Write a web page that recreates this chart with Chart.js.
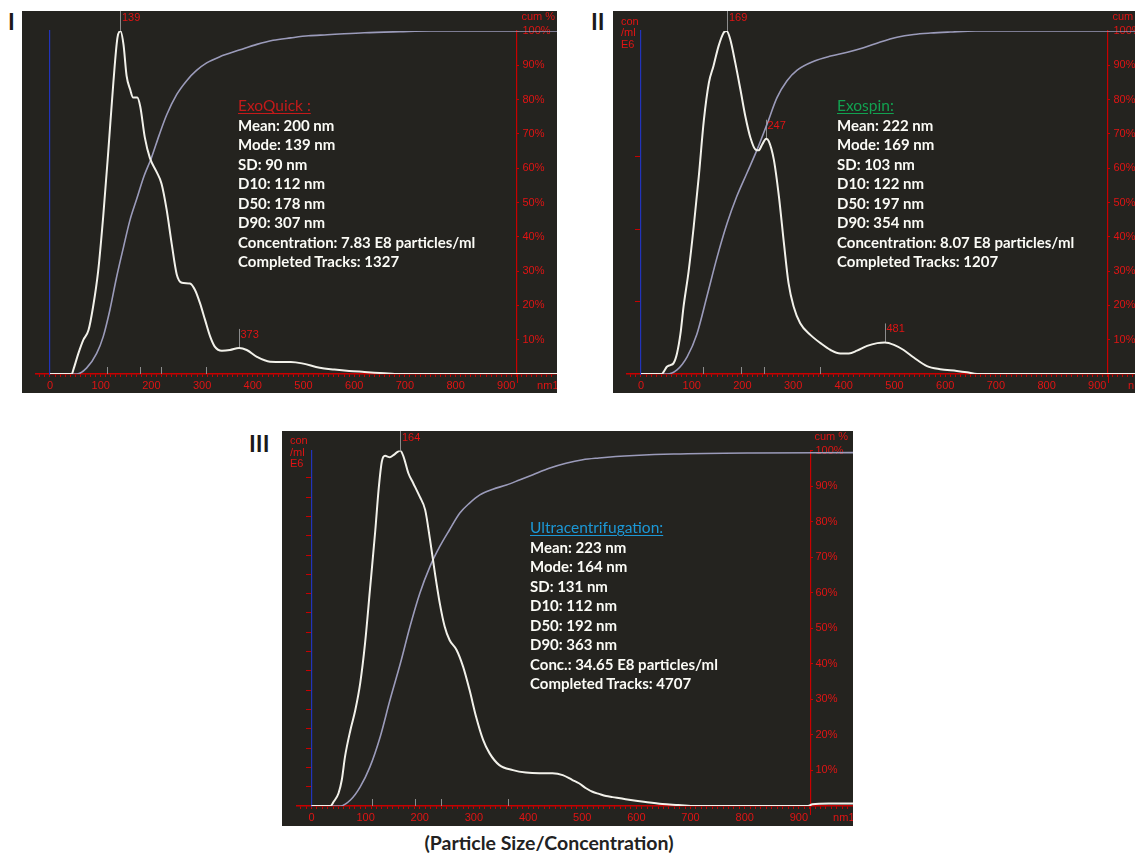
<!DOCTYPE html>
<html>
<head>
<meta charset="utf-8">
<script src="https://cdn.jsdelivr.net/npm/chart.js@4.4.1/dist/chart.umd.min.js"></script>
<style>
html,body{margin:0;padding:0;background:#fff;}
#page{position:relative;width:1135px;height:854px;overflow:hidden;background:#fff;font-family:Lato,"Open Sans",sans-serif;}
.box{position:absolute;background:#24231f;overflow:hidden;}
.box canvas{position:absolute;left:0;top:0;}
.plabel{position:absolute;font:700 23px/1 Lato,sans-serif;color:#1a1a1a;white-space:nowrap;}
.stats{position:absolute;color:#fbfbf6;font:700 15px Lato,sans-serif;line-height:19.5px;white-space:nowrap;z-index:2;}
.stats .t{font-weight:400;font-size:15.5px;text-decoration:underline;text-underline-offset:2px;}
.caption{position:absolute;left:549px;top:833px;transform:translateX(-50%);font:700 19.5px/1 Lato,sans-serif;color:#222;white-space:nowrap;}
</style>
</head>
<body>
<div id="page">
  <div class="plabel" style="left:8px;top:10px;">I</div>
  <div class="plabel" style="left:591px;top:10px;">II</div>
  <div class="plabel" style="left:249px;top:432px;">III</div>

  <div class="box" style="left:22px;top:11px;width:535px;height:382px;"><canvas id="c1"></canvas></div>
  <div class="box" style="left:613px;top:11px;width:522px;height:382px;"><canvas id="c2"></canvas></div>
  <div class="box" style="left:282px;top:431px;width:571px;height:395px;"><canvas id="c3"></canvas></div>

  <div class="stats" id="s1" style="left:238px;top:96px;"></div>
  <div class="stats" id="s2" style="left:837px;top:96px;"></div>
  <div class="stats" id="s3" style="left:530px;top:518px;"></div>

  <div class="caption">(Particle Size/Concentration)</div>
</div>

<script>
// ---------------- DATA ----------------
// Particle size (nm) and concentration (relative height, % of mode peak)
const sizeI = [0, 43, 46, 56, 66, 76, 85, 95, 105, 115, 125, 133, 139, 145, 151, 158, 164, 172, 178, 187, 197, 210, 220, 230, 240, 250, 260, 276, 286, 296, 306, 316, 325, 339, 355, 373, 388, 408, 434, 475, 497, 532, 561, 590, 620, 660, 680, 1000];
const concI = [0, 0, 1.2, 6, 10, 12.8, 19.6, 30, 46, 65, 85, 98, 100, 96, 87, 83, 80.6, 80.6, 78, 69, 63, 59, 55.5, 48, 38, 29, 26.6, 26.4, 24.5, 20.6, 15.7, 10.9, 8, 6.8, 7, 7.6, 7, 5, 3.6, 3.5, 3.1, 1.8, 1.3, 0.9, 0.6, 0.2, 0, 0];
const cumSizeI = [0, 53, 72, 92, 105, 118, 131, 145, 158, 171, 185, 200, 215, 230, 250, 270, 289, 309, 335, 375, 408, 440, 475, 510, 547, 580, 620, 690, 750, 1000];
const cumI = [0, 0, 1.7, 6, 10.9, 18.6, 28, 37, 45, 51, 57.5, 63, 69.5, 75.5, 81.5, 85.6, 88.5, 90.7, 92.5, 94.5, 96.1, 97.3, 98.0, 98.6, 98.9, 99.2, 99.5, 99.8, 100, 100];

const sizeII = [0, 41, 45, 51, 58, 64, 71, 78, 84, 94, 104, 114, 124, 134, 143, 153, 163, 169, 176, 186, 196, 206, 216, 226, 232, 239, 247, 252, 262, 272, 282, 291, 301, 314, 334, 354, 374, 393, 410, 426, 446, 466, 481, 499, 518, 538, 564, 590, 623, 643, 663, 1000];
const concII = [0, 0, 0.7, 2.1, 2.6, 3.1, 6, 11.9, 19.7, 30, 43, 57.6, 74, 85, 89.8, 95.6, 99.5, 100, 97.6, 90.7, 83, 75, 68.8, 65.4, 65.2, 66.9, 68.6, 67.9, 62.5, 51.8, 38, 26.5, 19.7, 14.8, 11.4, 9, 7, 6, 6, 6.8, 8.2, 9, 9.2, 8.5, 7, 4.8, 2.3, 1.4, 0.9, 0.5, 0, 0];
const cumSizeII = [0, 51, 71, 91, 110, 130, 150, 170, 189, 209, 229, 249, 268, 288, 308, 341, 374, 407, 439, 472, 505, 538, 571, 610, 660, 1000];
const cumII = [0, 0, 1.2, 5, 11.5, 22.6, 34, 44, 51.8, 58.6, 65.4, 73, 80.5, 85.5, 88.6, 91.2, 92.7, 93.8, 95.1, 96.8, 98.2, 99, 99.4, 99.7, 100, 100];

const sizeIII = [0, 35, 41, 50, 56, 62, 72, 81, 90, 99, 108, 118, 124, 130, 136, 145, 154, 164, 170, 179, 188, 200, 210, 219, 228, 237, 246, 255, 268, 280, 292, 304, 317, 329, 347, 372, 396, 421, 445, 464, 482, 494, 507, 519, 531, 544, 556, 580, 617, 648, 678, 709, 917, 925, 955, 1000];
const concIII = [0, 0, 1.2, 3.6, 7.3, 13.9, 21.4, 27, 34.5, 45.8, 60.8, 77.7, 89, 96.9, 98.5, 98.1, 99, 100, 98.3, 93.6, 90.8, 87, 83.3, 74.9, 65.5, 57, 50.5, 46.7, 43.9, 39.2, 32.6, 25.1, 18.6, 14.8, 11.5, 10.1, 9.4, 9.2, 9.2, 8.7, 7.3, 6.4, 5, 4, 3.4, 2.8, 2.5, 1.9, 1.1, 0.55, 0.3, 0, 0, 0.5, 0.7, 0.7];
const cumSizeIII = [0, 53, 72, 90, 108, 127, 145, 164, 182, 200, 219, 237, 255, 274, 292, 311, 335, 360, 384, 409, 439, 470, 501, 531, 562, 596, 669, 814, 1000];
const cumIII = [0, 0, 1.7, 5.4, 11, 19.5, 29.8, 40, 50.5, 59.8, 67.4, 73, 77.7, 82.4, 85.2, 87.5, 89.1, 90.3, 91.7, 93.2, 95, 96.4, 97.4, 97.9, 98.3, 98.6, 99, 99.3, 99.4];

// labelled peaks (nm) and D10 / D50 / mean-ish / D90 marker positions (nm)
const peaksI = [139, 373];
const peaksII = [169, 247, 481];
const peaksIII = [164];
const marksI = [112, 178, 219, 307];
const marksII = [122, 197, 243, 354];
const marksIII = [112, 192, 240, 363];

// left axis (con/ml E6) tick positions, relative height units
const leftTicksI = [];
const leftTicksII = [21, 42.1, 63.3];
const leftTicksIII = [5.43, 10.86, 16.29, 21.72, 27.15, 32.58, 38.01, 43.44, 48.87, 54.3, 59.73, 65.16, 70.59, 76.02, 81.45, 86.88, 92.31];

// tick labels
const xLabelValues = [0, 100, 200, 300, 400, 500, 600, 700, 800, 900];
const xEndLabel = 'nm1000';
const cumTickValues = [10, 20, 30, 40, 50, 60, 70, 80, 90, 100];
const cumAxisTitle = 'cum %';
const conLabel = ['con', '/ml', 'E6'];

// statistics text
const statsI = ['ExoQuick :', 'Mean: 200 nm', 'Mode: 139 nm', 'SD: 90 nm', 'D10: 112 nm', 'D50: 178 nm', 'D90: 307 nm', 'Concentration: 7.83 E8 particles/ml', 'Completed Tracks: 1327'];
const statsII = ['Exospin:', 'Mean: 222 nm', 'Mode: 169 nm', 'SD: 103 nm', 'D10: 122 nm', 'D50: 197 nm', 'D90: 354 nm', 'Concentration: 8.07 E8 particles/ml', 'Completed Tracks: 1207'];
const statsIII = ['Ultracentrifugation:', 'Mean: 223 nm', 'Mode: 164 nm', 'SD: 131 nm', 'D10: 112 nm', 'D50: 192 nm', 'D90: 363 nm', 'Conc.: 34.65 E8 particles/ml', 'Completed Tracks: 4707'];

// ---------------- STYLE ----------------
const X_MIN = -27.6, X_MAX = 1000, X_MINOR = 10, X_FIRST_TICK = -20;
const CUM_AXIS_AT = 921;
const EXTRA = 40;
const RED_TXT = '#e01414', RED_LINE = '#c80000', BLUE = '#2233bb', GRAY = '#8c8c8c';
const CONC_COLOR = '#f2f1ea', CUM_COLOR = '#9b9bba';
const TXT_FONT = '11px "Liberation Sans", Arial, sans-serif';

function fillStats(id, lines, color) {
  const el = document.getElementById(id);
  lines.forEach((t, i) => {
    const d = document.createElement('div');
    d.textContent = t;
    if (i === 0) { d.className = 't'; d.style.color = color; }
    el.appendChild(d);
  });
}
fillStats('s1', statsI, '#c41a1a');
fillStats('s2', statsII, '#12a150');
fillStats('s3', statsIII, '#1c98d6');

const decor = {
  id: 'decor',
  beforeDatasetsDraw(chart, args, o) {
    const ctx = chart.ctx, xs = chart.scales.x, ys = chart.scales.y, y2 = chart.scales.y2, ca = chart.chartArea;
    ctx.save();
    ctx.lineWidth = 1;
    ctx.strokeStyle = GRAY;
    o.marks.forEach(v => {
      const px = Math.round(xs.getPixelForValue(v)) + 0.5;
      ctx.beginPath(); ctx.moveTo(px, ca.bottom); ctx.lineTo(px, ca.bottom - 7); ctx.stroke();
    });
    o.peaks.forEach((pk, i) => {
      const idx = o.size.indexOf(pk);
      const py = ys.getPixelForValue(o.conc[idx]);
      const px = Math.round(xs.getPixelForValue(pk)) + 0.5;
      const top = i === 0 ? 0 : py - 19;
      ctx.beginPath(); ctx.moveTo(px, top); ctx.lineTo(px, py); ctx.stroke();
    });
    // cum axis extension below baseline
    const ax = Math.round(xs.getPixelForValue(CUM_AXIS_AT)) + 0.5;
    ctx.strokeStyle = RED_LINE;
    ctx.beginPath(); ctx.moveTo(ax, ca.bottom); ctx.lineTo(ax, ca.bottom + 9); ctx.stroke();
    // cum % tick labels
    ctx.fillStyle = RED_TXT; ctx.font = TXT_FONT; ctx.textAlign = 'left'; ctx.textBaseline = 'middle';
    cumTickValues.forEach(v => ctx.fillText(v + '%', ax + 5, y2.getPixelForValue(v)));
    ctx.fillText(cumAxisTitle, ax + 4, ca.top - 14);
    if (o.con) {
      ctx.fillText(conLabel[0], 8, ca.top - 9.5);
      ctx.fillText(conLabel[1], 8, ca.top + 2);
      ctx.fillText(conLabel[2], 8, ca.top + 13.5);
    }
    ctx.restore();
  },
  afterDatasetsDraw(chart, args, o) {
    const ctx = chart.ctx, xs = chart.scales.x, ys = chart.scales.y;
    ctx.save();
    ctx.fillStyle = RED_TXT; ctx.font = TXT_FONT; ctx.textAlign = 'left'; ctx.textBaseline = 'middle';
    o.peaks.forEach((pk, i) => {
      const idx = o.size.indexOf(pk);
      const py = ys.getPixelForValue(o.conc[idx]);
      const px = Math.round(xs.getPixelForValue(pk)) + 0.5;
      if (i === 0) ctx.fillText(String(pk), px + 1.5, 6.5);
      else ctx.fillText(String(pk), px + 1, py - 13);
    });
    ctx.restore();
  }
};

function makeChart(id, p) {
  const cv = document.getElementById(id);
  cv.width = p.cw; cv.height = p.ch;
  cv.style.width = p.cw + 'px'; cv.style.height = p.ch + 'px';
  const concPts = p.size.map((s, i) => ({x: s, y: p.conc[i]}));
  const cumPts = p.cumSize.map((s, i) => ({x: s, y: p.cum[i]}));
  return new Chart(cv, {
    type: 'line',
    data: {
      datasets: [
        {data: concPts, yAxisID: 'y', borderColor: CONC_COLOR, borderWidth: 2, pointRadius: 0, cubicInterpolationMode: 'monotone', fill: false},
        {data: cumPts, yAxisID: 'y2', borderColor: CUM_COLOR, borderWidth: 1.6, pointRadius: 0, cubicInterpolationMode: 'monotone', fill: false}
      ]
    },
    options: {
      responsive: false, animation: false, devicePixelRatio: 1,
      layout: {padding: {left: p.padL, top: p.padT, right: EXTRA, bottom: 0}},
      plugins: {
        legend: {display: false}, tooltip: {enabled: false},
        decor: {size: p.size, conc: p.conc, peaks: p.peaks, marks: p.marks, con: p.con}
      },
      scales: {
        x: {
          type: 'linear', position: 'bottom', min: X_MIN, max: X_MAX,
          afterBuildTicks: s => { const t = []; for (let v = X_FIRST_TICK; v <= X_MAX; v += X_MINOR) t.push({value: v}); s.ticks = t; },
          afterFit: s => { s.height = p.axisH; },
          grid: {drawOnChartArea: false, drawTicks: true, tickLength: 3, tickColor: RED_LINE, tickWidth: 1},
          border: {display: true, color: RED_LINE, width: 1.5},
          ticks: {autoSkip: false, maxRotation: 0, minRotation: 0, padding: 2.5, color: RED_TXT,
            font: {family: '"Liberation Sans", Arial, sans-serif', size: 11},
            callback: v => xLabelValues.includes(v) ? String(v) : (v === X_MAX ? xEndLabel : '')}
        },
        y: {
          type: 'linear', axis: 'y', position: {x: 0}, min: 0, max: 100,
          afterBuildTicks: s => { s.ticks = p.leftTicks.map(v => ({value: v})); },
          grid: {drawOnChartArea: false, drawTicks: p.leftTicks.length > 0, tickLength: 5, tickColor: RED_LINE, tickWidth: 1},
          border: {display: true, color: BLUE, width: 1.2},
          ticks: {display: false}
        },
        y2: {
          type: 'linear', axis: 'y', position: {x: CUM_AXIS_AT}, min: 0, max: 100,
          afterBuildTicks: s => { s.ticks = cumTickValues.map(v => ({value: v})); },
          grid: {drawOnChartArea: false, drawTicks: true, tickLength: -3, tickColor: RED_LINE, tickWidth: 1},
          border: {display: true, color: RED_LINE, width: 1.2},
          ticks: {display: false}
        }
      }
    },
    plugins: [decor]
  });
}

makeChart('c1', {cw: 535 + EXTRA, ch: 382, padL: 14, padT: 20, axisH: 19,
  size: sizeI, conc: concI, cumSize: cumSizeI, cum: cumI, peaks: peaksI, marks: marksI, leftTicks: leftTicksI, con: false});
makeChart('c2', {cw: 535 + EXTRA, ch: 382, padL: 14, padT: 20, axisH: 19,
  size: sizeII, conc: concII, cumSize: cumSizeII, cum: cumII, peaks: peaksII, marks: marksII, leftTicks: leftTicksII, con: true});
makeChart('c3', {cw: 571 + EXTRA, ch: 395, padL: 14.5, padT: 19.5, axisH: 20,
  size: sizeIII, conc: concIII, cumSize: cumSizeIII, cum: cumIII, peaks: peaksIII, marks: marksIII, leftTicks: leftTicksIII, con: true});
</script>
</body>
</html>
